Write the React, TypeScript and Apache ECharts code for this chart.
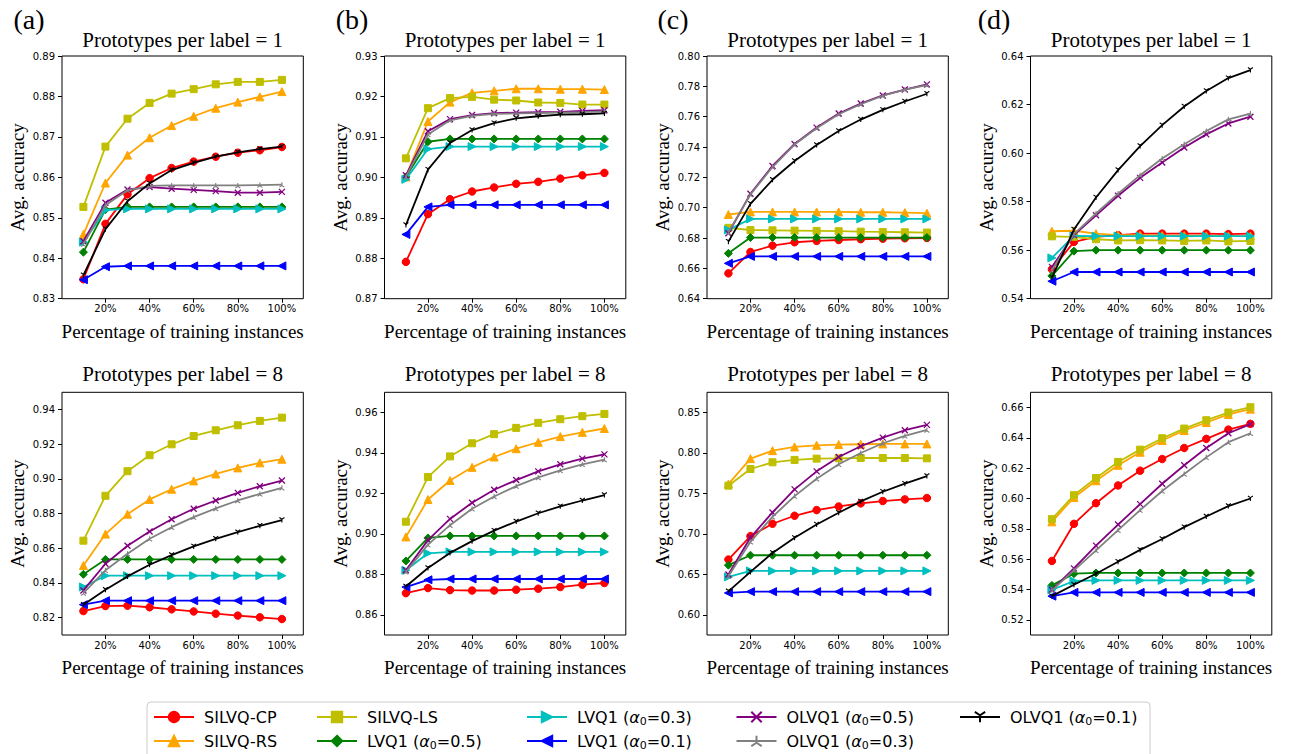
import React, { useEffect, useRef } from 'react';
import * as echarts from 'echarts';

// ---------- data ----------
const xPercent = [10, 20, 30, 40, 50, 60, 70, 80, 90, 100];
const xTickValues = [20, 40, 60, 80, 100];
const seriesNames = [
  'SILVQ-CP', 'SILVQ-RS', 'SILVQ-LS',
  'LVQ1 (α0=0.5)', 'LVQ1 (α0=0.3)', 'LVQ1 (α0=0.1)',
  'OLVQ1 (α0=0.5)', 'OLVQ1 (α0=0.3)', 'OLVQ1 (α0=0.1)',
];
const panelLetters = ['(a)', '(b)', '(c)', '(d)'];
const rowTitles = ['Prototypes per label = 1', 'Prototypes per label = 8'];
const xAxisTitle = 'Percentage of training instances';
const yAxisTitle = 'Avg. accuracy';

// series order: CP, RS, LS, LVQ1 .5, LVQ1 .3, LVQ1 .1, OLVQ1 .5, OLVQ1 .3, OLVQ1 .1
const panelA1 = [
  [0.8348, 0.8485, 0.8558, 0.8598, 0.8623, 0.8639, 0.8651, 0.8661, 0.8667, 0.8675],
  [0.8459, 0.8586, 0.8655, 0.8698, 0.8728, 0.8751, 0.8771, 0.8786, 0.8799, 0.8812],
  [0.8527, 0.8676, 0.8745, 0.8784, 0.8807, 0.8818, 0.8830, 0.8836, 0.8836, 0.8841],
  [0.8415, 0.8520, 0.8527, 0.8527, 0.8527, 0.8527, 0.8527, 0.8527, 0.8527, 0.8527],
  [0.8440, 0.8519, 0.8522, 0.8522, 0.8522, 0.8522, 0.8522, 0.8522, 0.8522, 0.8522],
  [0.8347, 0.8379, 0.8381, 0.8381, 0.8381, 0.8381, 0.8381, 0.8381, 0.8381, 0.8381],
  [0.8442, 0.8537, 0.8570, 0.8576, 0.8572, 0.8569, 0.8566, 0.8562, 0.8562, 0.8564],
  [0.8435, 0.8531, 0.8568, 0.8579, 0.8580, 0.8580, 0.8580, 0.8580, 0.8581, 0.8582],
  [0.8358, 0.8472, 0.8541, 0.8585, 0.8618, 0.8636, 0.8651, 0.8662, 0.8670, 0.8676],
];
const panelB1 = [
  [0.8791, 0.8909, 0.8946, 0.8965, 0.8975, 0.8984, 0.8989, 0.8997, 0.9005, 0.9011],
  [0.9001, 0.9138, 0.9186, 0.9209, 0.9214, 0.9219, 0.9219, 0.9218, 0.9218, 0.9217],
  [0.9047, 0.9171, 0.9196, 0.9199, 0.9192, 0.9190, 0.9185, 0.9184, 0.9180, 0.9180],
  [0.9001, 0.9088, 0.9095, 0.9095, 0.9095, 0.9095, 0.9095, 0.9095, 0.9095, 0.9095],
  [0.8995, 0.9070, 0.9076, 0.9076, 0.9076, 0.9076, 0.9076, 0.9076, 0.9076, 0.9076],
  [0.8859, 0.8927, 0.8932, 0.8932, 0.8932, 0.8932, 0.8932, 0.8932, 0.8932, 0.8932],
  [0.9005, 0.9114, 0.9144, 0.9154, 0.9159, 0.9160, 0.9161, 0.9162, 0.9164, 0.9166],
  [0.9001, 0.9106, 0.9141, 0.9152, 0.9157, 0.9158, 0.9159, 0.9160, 0.9161, 0.9163],
  [0.8882, 0.9019, 0.9085, 0.9117, 0.9134, 0.9146, 0.9151, 0.9155, 0.9156, 0.9158],
];
const panelC1 = [
  [0.6567, 0.6708, 0.6750, 0.6772, 0.6781, 0.6787, 0.6792, 0.6796, 0.6798, 0.6800],
  [0.6955, 0.6972, 0.6972, 0.6972, 0.6972, 0.6972, 0.6970, 0.6970, 0.6968, 0.6964],
  [0.6867, 0.6853, 0.6851, 0.6849, 0.6847, 0.6845, 0.6842, 0.6840, 0.6838, 0.6836],
  [0.6699, 0.6803, 0.6803, 0.6803, 0.6803, 0.6803, 0.6803, 0.6803, 0.6803, 0.6803],
  [0.6853, 0.6926, 0.6926, 0.6926, 0.6926, 0.6926, 0.6926, 0.6926, 0.6926, 0.6926],
  [0.6633, 0.6679, 0.6679, 0.6679, 0.6679, 0.6679, 0.6679, 0.6679, 0.6679, 0.6679],
  [0.6831, 0.7092, 0.7275, 0.7420, 0.7528, 0.7621, 0.7687, 0.7740, 0.7779, 0.7813],
  [0.6838, 0.7087, 0.7268, 0.7416, 0.7524, 0.7616, 0.7682, 0.7738, 0.7779, 0.7808],
  [0.6776, 0.7025, 0.7184, 0.7308, 0.7413, 0.7506, 0.7581, 0.7645, 0.7700, 0.7751],
];
const panelD1 = [
  [0.5521, 0.5634, 0.5655, 0.5662, 0.5668, 0.5668, 0.5668, 0.5668, 0.5666, 0.5668],
  [0.5678, 0.5680, 0.5668, 0.5662, 0.5662, 0.5660, 0.5660, 0.5659, 0.5658, 0.5658],
  [0.5657, 0.5655, 0.5645, 0.5640, 0.5641, 0.5640, 0.5638, 0.5640, 0.5636, 0.5638],
  [0.5494, 0.5596, 0.5600, 0.5600, 0.5600, 0.5600, 0.5600, 0.5600, 0.5600, 0.5600],
  [0.5568, 0.5659, 0.5658, 0.5658, 0.5658, 0.5658, 0.5658, 0.5658, 0.5658, 0.5658],
  [0.5472, 0.5510, 0.5510, 0.5510, 0.5510, 0.5510, 0.5510, 0.5510, 0.5510, 0.5510],
  [0.5531, 0.5662, 0.5744, 0.5824, 0.5898, 0.5961, 0.6023, 0.6077, 0.6122, 0.6150],
  [0.5517, 0.5666, 0.5751, 0.5833, 0.5909, 0.5978, 0.6036, 0.6091, 0.6139, 0.6163],
  [0.5487, 0.5685, 0.5817, 0.5930, 0.6029, 0.6115, 0.6192, 0.6256, 0.6309, 0.6342],
];
const panelA2 = [
  [0.8238, 0.8267, 0.8269, 0.8260, 0.8248, 0.8236, 0.8223, 0.8212, 0.8202, 0.8192],
  [0.8501, 0.8682, 0.8797, 0.8882, 0.8941, 0.8989, 0.9029, 0.9064, 0.9093, 0.9114],
  [0.8644, 0.8903, 0.9045, 0.9137, 0.9200, 0.9248, 0.9281, 0.9310, 0.9335, 0.9354],
  [0.8450, 0.8536, 0.8536, 0.8536, 0.8536, 0.8536, 0.8536, 0.8536, 0.8536, 0.8536],
  [0.8377, 0.8442, 0.8442, 0.8442, 0.8442, 0.8442, 0.8442, 0.8442, 0.8442, 0.8442],
  [0.8275, 0.8298, 0.8298, 0.8298, 0.8298, 0.8298, 0.8298, 0.8298, 0.8298, 0.8298],
  [0.8357, 0.8511, 0.8615, 0.8697, 0.8768, 0.8828, 0.8876, 0.8920, 0.8958, 0.8991],
  [0.8342, 0.8473, 0.8569, 0.8655, 0.8722, 0.8780, 0.8830, 0.8876, 0.8914, 0.8949],
  [0.8275, 0.8361, 0.8438, 0.8505, 0.8561, 0.8611, 0.8655, 0.8693, 0.8730, 0.8763],
];
const panelB2 = [
  [0.8707, 0.8732, 0.8722, 0.8720, 0.8720, 0.8724, 0.8729, 0.8737, 0.8749, 0.8757],
  [0.8985, 0.9170, 0.9264, 0.9329, 0.9380, 0.9421, 0.9453, 0.9481, 0.9502, 0.9521],
  [0.9060, 0.9281, 0.9383, 0.9448, 0.9493, 0.9524, 0.9549, 0.9567, 0.9582, 0.9593],
  [0.8866, 0.8980, 0.8990, 0.8990, 0.8990, 0.8990, 0.8990, 0.8990, 0.8990, 0.8990],
  [0.8820, 0.8904, 0.8911, 0.8911, 0.8911, 0.8911, 0.8911, 0.8911, 0.8911, 0.8911],
  [0.8737, 0.8773, 0.8777, 0.8777, 0.8777, 0.8777, 0.8777, 0.8777, 0.8777, 0.8777],
  [0.8820, 0.8969, 0.9074, 0.9154, 0.9218, 0.9266, 0.9309, 0.9344, 0.9372, 0.9393],
  [0.8812, 0.8947, 0.9043, 0.9124, 0.9185, 0.9236, 0.9279, 0.9314, 0.9344, 0.9367],
  [0.8740, 0.8831, 0.8906, 0.8964, 0.9016, 0.9061, 0.9102, 0.9136, 0.9165, 0.9192],
];
const panelC2 = [
  [0.6683, 0.6972, 0.7125, 0.7224, 0.7294, 0.7339, 0.7377, 0.7406, 0.7426, 0.7443],
  [0.7616, 0.7930, 0.8029, 0.8075, 0.8095, 0.8104, 0.8108, 0.8112, 0.8112, 0.8112],
  [0.7596, 0.7802, 0.7885, 0.7914, 0.7930, 0.7934, 0.7938, 0.7938, 0.7938, 0.7934],
  [0.6613, 0.6736, 0.6736, 0.6736, 0.6736, 0.6736, 0.6736, 0.6736, 0.6736, 0.6736],
  [0.6468, 0.6542, 0.6542, 0.6542, 0.6542, 0.6542, 0.6542, 0.6542, 0.6542, 0.6542],
  [0.6270, 0.6286, 0.6286, 0.6286, 0.6286, 0.6286, 0.6286, 0.6286, 0.6286, 0.6286],
  [0.6497, 0.6955, 0.7265, 0.7550, 0.7773, 0.7951, 0.8083, 0.8190, 0.8281, 0.8347],
  [0.6476, 0.6902, 0.7211, 0.7467, 0.7682, 0.7860, 0.8000, 0.8120, 0.8211, 0.8285],
  [0.6290, 0.6530, 0.6765, 0.6951, 0.7116, 0.7261, 0.7401, 0.7521, 0.7620, 0.7715],
];
const panelD2 = [
  [0.5588, 0.5833, 0.5969, 0.6086, 0.6183, 0.6260, 0.6333, 0.6393, 0.6454, 0.6492],
  [0.5846, 0.6007, 0.6117, 0.6219, 0.6305, 0.6382, 0.6448, 0.6501, 0.6554, 0.6589],
  [0.5864, 0.6022, 0.6135, 0.6241, 0.6322, 0.6397, 0.6461, 0.6516, 0.6567, 0.6602],
  [0.5427, 0.5504, 0.5509, 0.5509, 0.5509, 0.5509, 0.5509, 0.5509, 0.5509, 0.5509],
  [0.5398, 0.5456, 0.5460, 0.5460, 0.5460, 0.5460, 0.5460, 0.5460, 0.5460, 0.5460],
  [0.5356, 0.5381, 0.5381, 0.5381, 0.5381, 0.5381, 0.5381, 0.5381, 0.5381, 0.5381],
  [0.5398, 0.5539, 0.5689, 0.5828, 0.5963, 0.6097, 0.6219, 0.6333, 0.6430, 0.6490],
  [0.5394, 0.5526, 0.5658, 0.5791, 0.5923, 0.6049, 0.6161, 0.6271, 0.6371, 0.6430],
  [0.5356, 0.5431, 0.5504, 0.5583, 0.5661, 0.5733, 0.5811, 0.5881, 0.5950, 0.6000],
];

// y-axis ranges and tick labels per panel
const yRangeA1 = [0.83, 0.89];
const yTicksA1 = [0.83, 0.84, 0.85, 0.86, 0.87, 0.88, 0.89];
const yRangeB1 = [0.87, 0.93];
const yTicksB1 = [0.87, 0.88, 0.89, 0.90, 0.91, 0.92, 0.93];
const yRangeC1 = [0.64, 0.80];
const yTicksC1 = [0.64, 0.66, 0.68, 0.70, 0.72, 0.74, 0.76, 0.78, 0.80];
const yRangeD1 = [0.54, 0.64];
const yTicksD1 = [0.54, 0.56, 0.58, 0.60, 0.62, 0.64];
const yRangeA2 = [0.81, 0.95];
const yTicksA2 = [0.82, 0.84, 0.86, 0.88, 0.90, 0.92, 0.94];
const yRangeB2 = [0.85, 0.97];
const yTicksB2 = [0.86, 0.88, 0.90, 0.92, 0.94, 0.96];
const yRangeC2 = [0.575, 0.875];
const yTicksC2 = [0.60, 0.65, 0.70, 0.75, 0.80, 0.85];
const yRangeD2 = [0.51, 0.67];
const yTicksD2 = [0.52, 0.54, 0.56, 0.58, 0.60, 0.62, 0.64, 0.66];

// ---------- styling / layout ----------
const panels = [panelA1, panelB1, panelC1, panelD1, panelA2, panelB2, panelC2, panelD2];
const yRanges = [yRangeA1, yRangeB1, yRangeC1, yRangeD1, yRangeA2, yRangeB2, yRangeC2, yRangeD2];
const yTicks = [yTicksA1, yTicksB1, yTicksC1, yTicksD1, yTicksA2, yTicksB2, yTicksC2, yTicksD2];

const colors = ['#ff0000', '#ffa500', '#bfbf00', '#008000', '#00bfbf', '#0000ff', '#800080', '#808080', '#000000'];
const X_PATH = 'path://M0 0L10 10M10 0L0 10';
const TRI_UP = 'path://M5 5L5 0M5 5L0.67 7.5M5 5L9.33 7.5';
const TRI_DOWN = 'path://M5 5L5 10M5 5L0.67 2.5M5 5L9.33 2.5';
const markerStyles = [
  { symbol: 'circle', size: 7.5, rotate: 0, border: 1 },
  { symbol: 'triangle', size: 8, rotate: 0, border: 1 },
  { symbol: 'rect', size: 7, rotate: 0, border: 1 },
  { symbol: 'diamond', size: 8, rotate: 0, border: 1 },
  { symbol: 'triangle', size: 8, rotate: -90, border: 1 },
  { symbol: 'triangle', size: 8, rotate: 90, border: 1 },
  { symbol: X_PATH, size: 6, rotate: 0, border: 1.3 },
  { symbol: TRI_UP, size: 5, rotate: 0, border: 1.1 },
  { symbol: TRI_DOWN, size: 5, rotate: 0, border: 1.1 },
];

const colLeft = [62, 384.5, 707, 1030.5];
const rowTop = [56, 392.3];
const gridW = 241.3;
const gridH = 242.7;
const titleY = [40, 374];
const letterX = [29, 352, 673, 994];
const legendColLeft = [153, 316, 526, 735.5, 959];
const legendRowTop = [709, 733];

const SERIF = '"Liberation Serif", "Times New Roman", serif';
const SANS = '"DejaVu Sans", sans-serif';

function buildOption(): any {
  const grid: any[] = [];
  const xAxis: any[] = [];
  const yAxis: any[] = [];
  const series: any[] = [];
  const graphic: any[] = [];

  panels.forEach((panel, i) => {
    const col = i % 4;
    const row = Math.floor(i / 4);
    grid.push({
      left: colLeft[col], top: rowTop[row], width: gridW, height: gridH,
      show: true, borderColor: '#000', borderWidth: 1, backgroundColor: 'transparent',
      containLabel: false, outerBoundsMode: 'none',
    });
    xAxis.push({
      type: 'value', gridIndex: i, min: 0.3, max: 109.7,
      axisLine: { show: false, onZero: false },
      splitLine: { show: false },
      axisTick: { show: true, customValues: xTickValues, length: 4, lineStyle: { color: '#000', width: 1 } },
      axisLabel: {
        customValues: xTickValues, formatter: (v: number) => `${Math.round(v)}%`,
        fontSize: 10, fontFamily: SANS, color: '#000', margin: 5,
      },
      name: xAxisTitle, nameLocation: 'middle', nameGap: 23,
      nameTextStyle: { fontFamily: SERIF, fontSize: 19, color: '#000' },
    });
    yAxis.push({
      type: 'value', gridIndex: i, min: yRanges[i][0], max: yRanges[i][1],
      axisLine: { show: false, onZero: false },
      splitLine: { show: false },
      axisTick: { show: true, customValues: yTicks[i], length: 4, lineStyle: { color: '#000', width: 1 } },
      axisLabel: {
        customValues: yTicks[i], formatter: (v: number) => v.toFixed(2),
        fontSize: 10, fontFamily: SANS, color: '#000', margin: 7,
      },
      name: yAxisTitle, nameLocation: 'middle', nameGap: 35,
      nameTextStyle: { fontFamily: SERIF, fontSize: 19, color: '#000' },
    });
    panel.forEach((values, s) => {
      const m = markerStyles[s];
      series.push({
        type: 'line', name: seriesNames[s], xAxisIndex: i, yAxisIndex: i,
        data: xPercent.map((x, k) => [x, values[k]]),
        symbol: m.symbol, symbolSize: m.size, symbolRotate: m.rotate,
        showSymbol: true, showAllSymbol: true,
        lineStyle: { width: 1.8, color: colors[s] },
        itemStyle: { color: colors[s], borderColor: colors[s], borderWidth: m.border },
        emphasis: { disabled: true },
        z: 2 + s * 0.01,
      });
    });
    graphic.push({
      type: 'text', x: colLeft[col] + gridW / 2, y: titleY[row],
      style: { text: rowTitles[row], fontFamily: SERIF, fontSize: 21, fill: '#000', align: 'center', verticalAlign: 'middle' },
    });
  });

  panelLetters.forEach((t, c) => {
    graphic.push({
      type: 'text', x: letterX[c], y: 19,
      style: { text: t, fontFamily: SERIF, fontSize: 28, fill: '#000', align: 'center', verticalAlign: 'middle' },
    });
  });
  graphic.push({
    type: 'rect', shape: { x: 147, y: 702, width: 1003, height: 64, r: 4 },
    style: { fill: 'none', stroke: '#cccccc', lineWidth: 1 },
  });

  const legend = seriesNames.map((name, k) => ({
    data: [name],
    left: legendColLeft[Math.floor(k / 2)],
    top: legendRowTop[k % 2],
    orient: 'horizontal', padding: 0, itemGap: 0,
    itemWidth: 40, itemHeight: 13, selectedMode: false,
    formatter: (n: string) => n.replace('α0', '{i|α}{s|0}'),
    textStyle: {
      fontFamily: SANS, fontSize: 16, color: '#000', padding: [0, 0, 0, 5],
      rich: {
        i: { fontStyle: 'italic', fontFamily: SANS, fontSize: 16, lineHeight: 20 },
        s: { fontFamily: SANS, fontSize: 11, lineHeight: 11, verticalAlign: 'bottom' },
      },
    },
  }));

  return { animation: false, backgroundColor: '#ffffff', grid, xAxis, yAxis, series, legend, graphic };
}

export default function App() {
  const ref = useRef<HTMLDivElement>(null);
  useEffect(() => {
    document.body.style.margin = '0';
    if (!ref.current) return;
    const chart = echarts.init(ref.current, undefined, { renderer: 'svg' });
    chart.setOption(buildOption());
    return () => chart.dispose();
  }, []);
  return <div ref={ref} style={{ width: 1290, height: 754 }} />;
}
